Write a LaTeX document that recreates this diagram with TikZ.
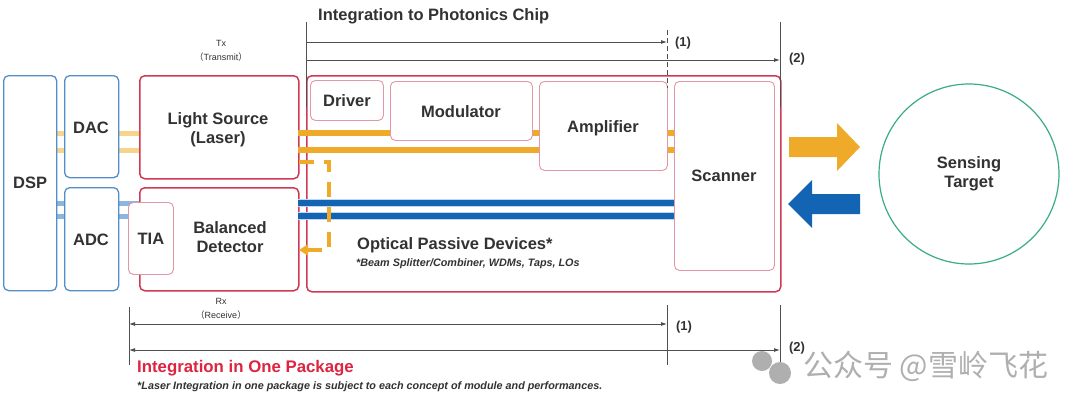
\documentclass[tikz,border=0pt]{standalone}
\usepackage{fontspec}
\setmainfont{Liberation Sans}
\newfontfamily\cjk{Noto Sans CJK SC}
\usetikzlibrary{arrows.meta}
\definecolor{bframe}{RGB}{84,142,200}
\definecolor{rframe}{RGB}{208,58,84}
\definecolor{pframe}{RGB}{226,150,166}
\definecolor{orng}{RGB}{240,170,42}
\definecolor{porng}{RGB}{246,212,140}
\definecolor{dblue}{RGB}{20,100,180}
\definecolor{pblue}{RGB}{140,182,224}
\definecolor{lblue}{RGB}{190,215,240}
\definecolor{grn}{RGB}{58,172,136}
\definecolor{txt}{RGB}{50,50,50}
\definecolor{dimc}{RGB}{80,80,80}
\definecolor{redt}{RGB}{222,36,64}
\definecolor{wm}{RGB}{175,175,175}
\begin{document}
\begin{tikzpicture}[x=1pt,y=-1pt,
  blbox/.style={draw=bframe,line width=1.3pt,rounded corners=5pt,fill=white,anchor=north west,inner sep=0pt},
  rbox/.style={draw=rframe,line width=1.5pt,rounded corners=5pt,fill=white,anchor=north west,inner sep=0pt},
  pbox/.style={draw=pframe,line width=0.9pt,rounded corners=5pt,fill=white,anchor=north west,inner sep=0pt},
  lbl/.style={font=\bfseries\fontsize{16.5}{19}\selectfont,text=txt,align=center,inner sep=0pt},
  smalltxt/.style={font=\fontsize{9}{14}\selectfont,text=txt,align=center,inner sep=0pt},
  note/.style={font=\bfseries\itshape\fontsize{10.8}{12}\selectfont,text=txt,anchor=west,inner sep=0pt},
  numlbl/.style={font=\bfseries\fontsize{13}{14}\selectfont,text=txt,inner sep=0pt},
  dim/.style={draw=dimc,line width=0.8pt},
  dimarrow/.style={dim,-{Latex[length=6pt,width=4pt]}},
  dimboth/.style={dim,{Latex[length=6pt,width=4pt]}-{Latex[length=6pt,width=4pt]}},
  oline/.style={draw=orng,line width=5.5pt},
  poline/.style={draw=porng,line width=5pt},
  bline/.style={draw=dblue,line width=5.5pt},
  pbline/.style={draw=pblue,line width=5pt},
]
\useasboundingbox[fill=white] (0,0) rectangle (1080,408);

% pale connecting lines (behind boxes)
\draw[poline] (56,133) -- (139,133);
\draw[poline] (56,150) -- (139,150);
\draw[pbline] (56,203) -- (139,203);
\draw[pbline] (56,216) -- (139,216);

% left blue boxes
\node[blbox,minimum width=53,minimum height=215] (dsp) at (3,75) {};
\node[lbl] (dsptxt) at (dsp.center) {DSP};
\node[blbox,minimum width=54,minimum height=102] (dac) at (64,75) {};
\node[lbl] (dactxt) at (91,128) {DAC};
\node[blbox,minimum width=54,minimum height=103] (adc) at (64,187) {};
\node[lbl] (adctxt) at (91,240) {ADC};

% Tx / Rx red boxes
\node[rbox,minimum width=159,minimum height=103] (ls) at (139,75) {};
\node[lbl] (lstxt) at (218,130) {Light Source\\(Laser)};
\node[rbox,minimum width=159,minimum height=103] (bd) at (139,187) {};
\node[lbl] (bdtxt) at (230,237) {Balanced\\Detector};
\node[pbox,minimum width=45,minimum height=72] (tia) at (128,202) {};
\node[lbl] (tiatxt) at (tia.center) {TIA};

% photonics chip
\node[rbox,minimum width=474,minimum height=216] (chip) at (306,75) {};

% optical paths
\draw[oline] (298,133) -- (674,133);
\draw[oline] (298,150) -- (674,150);
\draw[draw=lblue,line width=8.5pt] (298,203) -- (674,203);
\draw[draw=lblue,line width=8.5pt] (298,216) -- (674,216);
\draw[bline] (298,203) -- (674,203);
\draw[bline] (298,216) -- (674,216);

% inner chip boxes
\node[pbox,minimum width=73,minimum height=40] (drv) at (310,80) {};
\node[lbl] (drvtxt) at (drv.center) {Driver};
\node[pbox,minimum width=142,minimum height=59] (mod) at (390,81) {};
\node[lbl] (modtxt) at (461,112) {Modulator};
\node[pbox,minimum width=128,minimum height=89] (amp) at (539,81) {};
\node[lbl] (amptxt) at (603,128) {Amplifier};
\node[pbox,minimum width=100,minimum height=189] (scn) at (674,81) {};
\node[lbl] (scntxt) at (724,176) {Scanner};

% dashed tap back to detector
\coordinate (tapa) at (299,162);
\coordinate (tapb) at (329,162);
\coordinate (tapc) at (329,250);
\coordinate (tapd) at (299,250);
\draw[draw=orng,line width=3.5pt,dash pattern=on 15pt off 10pt,-{Triangle[length=9pt,width=11pt]}]
  (tapa) -- (tapb) -- (tapc) -- (tapd);

\node[lbl,anchor=west] (opd) at (357,245) {Optical Passive Devices*};
\node[note] (opdnote) at (356,264) {*Beam Splitter/Combiner, WDMs, Taps, LOs};

% big arrows
\fill[orng] (789,137) -- (837,137) -- (837,123) -- (860,147) -- (837,171) -- (837,157) -- (789,157) -- cycle;
\fill[dblue] (860,194) -- (812,194) -- (812,180) -- (788,204) -- (812,228) -- (812,214) -- (860,214) -- cycle;

% sensing target
\node[draw=grn,line width=1.2pt,circle,minimum size=180,inner sep=0pt] (tgt) at (969,174) {};
\node[lbl] (tgttxt) at (tgt.center) {Sensing\\Target};

% top dimension
\node[lbl,anchor=west] (topttl) at (318,16) {Integration to Photonics Chip};
\coordinate (t0a) at (306,22);
\coordinate (t0b) at (306,107);
\coordinate (t1s) at (306,42);
\coordinate (t1e) at (667,42);
\coordinate (t1a) at (667,30);
\coordinate (t1b) at (667,88);
\coordinate (t2s) at (306,60);
\coordinate (t2e) at (780,60);
\coordinate (t2a) at (780,22);
\coordinate (t2b) at (780,107);
\draw[dim] (t0a) -- (t0b);
\draw[dim] (t2a) -- (t2b);
\draw[dim,dash pattern=on 5pt off 3pt] (t1a) -- (t1b);
\draw[dimarrow] (t1s) -- (t1e);
\draw[dimarrow] (t2s) -- (t2e);
\node[numlbl] (lab1t) at (683,43) {(1)};
\node[numlbl] (lab2t) at (797,59) {(2)};
\node[smalltxt] (tx) at (221,51) {Tx\\{\cjk （}Transmit{\cjk ）}};

% bottom dimension
\node[smalltxt] (rx) at (221,309) {Rx\\{\cjk （}Receive{\cjk ）}};
\coordinate (b0a) at (129,307);
\coordinate (b0b) at (129,365);
\coordinate (b1a) at (667,305);
\coordinate (b1b) at (667,365);
\coordinate (b2a) at (780,305);
\coordinate (b2b) at (780,368);
\coordinate (b1s) at (667,324);
\coordinate (b1e) at (129,324);
\coordinate (b2s) at (780,350);
\coordinate (b2e) at (129,350);
\draw[dim,line width=1pt] (b0a) -- (b0b);
\draw[dim,line width=1pt] (b1a) -- (b1b);
\draw[dim,line width=1pt] (b2a) -- (b2b);
\draw[dimboth] (b1e) -- (b1s);
\draw[dimboth] (b2e) -- (b2s);
\node[numlbl] (lab1b) at (684,327) {(1)};
\node[numlbl] (lab2b) at (797,348) {(2)};

\node[font=\bfseries\fontsize{16.8}{19}\selectfont,text=redt,anchor=west,inner sep=0pt] (pkg) at (137,368) {Integration in One Package};
\node[note] (pkgnote) at (137,387) {*Laser Integration in one package is subject to each concept of module and performances.};

% watermark
\fill[wm] (762,361) circle (10);
\fill[wm] (780,373) circle (11);
\node[font=\cjk\fontsize{30}{32}\selectfont,text=wm,anchor=west,inner sep=0pt] (wmk) at (803,366) {公众号 @雪岭飞花};
\end{tikzpicture}
\end{document}
